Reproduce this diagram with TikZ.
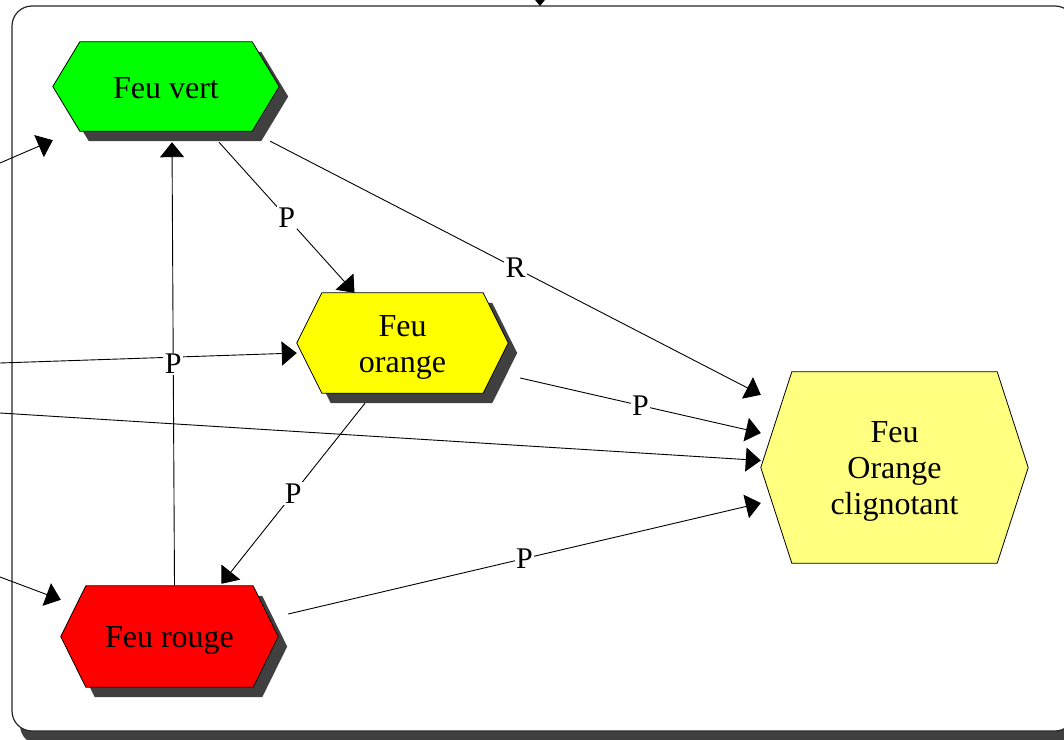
\documentclass[tikz,border=0pt]{standalone}
\usepackage{fontspec}
\setmainfont{Liberation Serif}
\newfontfamily\statefont{Liberation Serif}
\usetikzlibrary{arrows.meta}
\pgfdeclarelayer{bg}
\pgfsetlayers{bg,main}
\definecolor{shadowgray}{HTML}{404040}
\definecolor{vert}{HTML}{00FF00}
\definecolor{jaune}{HTML}{FFFF00}
\definecolor{rouge}{HTML}{FF0000}
\definecolor{pale}{HTML}{FFFF80}
\begin{document}
\begin{tikzpicture}[x=1pt,y=-1pt,
  state/.style={shape=rectangle, inner sep=0pt},
  statetext/.style={inner sep=0pt, align=center,
    font=\statefont\fontsize{32}{36}\selectfont},
  flow/.style={draw=black, line width=0.9pt,
    -{Triangle[length=15pt,width=24pt]}},
  lbl/.style={fill=white, inner sep=1.5pt,
    font=\statefont\fontsize{30}{34}\selectfont}]
\useasboundingbox (0,0) rectangle (1064,739);
\clip (0,0) rectangle (1064,739);

% state outlines (the hexagons are drawn behind them from their anchors)
\node[state, minimum width=226pt, minimum height=89pt]  (fv) at (166,86.5)    {};
\node[state, minimum width=211pt, minimum height=100pt] (fo) at (402.5,343)   {};
\node[state, minimum width=217pt, minimum height=101pt] (fr) at (169.5,636.5) {};
\node[state, minimum width=267pt, minimum height=191pt] (fc) at (894.5,467.5) {};

% state names
\node[statetext] (fv-t) at ([shift={(0,1.5)}]fv.center) {Feu vert};
\node[statetext] (fo-t) at ([shift={(0,4)}]fo.center)   {Feu\\orange};
\node[statetext] (fr-t) at ([shift={(0,4)}]fr.center)   {Feu rouge};
\node[statetext] (fc-t) at ([shift={(0,4)}]fc.center)   {Feu\\Orange\\clignotant};

\begin{pgfonlayer}{bg}
  % enclosing frame with its shadow
  \fill[shadowgray, rounded corners=20pt] (20,14) rectangle (1083,745);
  \filldraw[fill=white, draw=black!85, line width=1.2pt, rounded corners=20pt]
    (12,6) rectangle (1075,731);
  % hexagon shadows
  \foreach \n/\d in {fv/27,fo/25,fr/25}{
    \fill[shadowgray] ([shift={(9,10)}]\n.west)
      -- ([shift={(9+\d,10)}]\n.north west)
      -- ([shift={(9-\d,10)}]\n.north east)
      -- ([shift={(9,10)}]\n.east)
      -- ([shift={(9-\d,10)}]\n.south east)
      -- ([shift={(9+\d,10)}]\n.south west) -- cycle;
  }
  % hexagons
  \foreach \n/\d/\c in {fv/27/vert,fo/25/jaune,fr/25/rouge,fc/31/pale}{
    \filldraw[fill=\c, draw=black, line width=0.8pt] (\n.west)
      -- ([xshift=\d pt]\n.north west)
      -- ([xshift=-\d pt]\n.north east)
      -- (\n.east)
      -- ([xshift=-\d pt]\n.south east)
      -- ([xshift=\d pt]\n.south west) -- cycle;
  }
\end{pgfonlayer}

% incoming transitions from outside
\coordinate (in1) at (0,163);
\coordinate (in2) at (0,363);
\coordinate (in3) at (0,413);
\coordinate (in4) at (0,577);
\coordinate (topsrc) at (540,-30);
\coordinate (topdst) at (540,6);
\draw[flow] (in1) -- ([shift={(0,9)}]fv.south west);
\draw[flow] (in2) -- ([shift={(0,10)}]fo.west);
\draw[flow] (in3) -- ([shift={(0,-7)}]fc.west);
\draw[flow] (in4) -- ([shift={(0,14)}]fr.north west);
\draw[flow] (topsrc) -- (topdst);

% transitions between states
\draw[flow] ([shift={(53,11)}]fv.south) -- node[lbl]{P} ([shift={(-48,0)}]fo.north);
\draw[flow] ([shift={(-9,10)}]fv.south east) -- node[lbl]{R} ([shift={(0,23)}]fc.north west);
\draw[flow] ([shift={(5,0)}]fr.north) -- node[lbl]{P} ([shift={(6,11)}]fv.south);
\draw[flow] ([shift={(12,35)}]fo.east) -- node[lbl]{P} ([shift={(0,-34.5)}]fc.west);
\draw[flow] ([shift={(-37.5,10)}]fo.south) -- node[lbl]{P} ([shift={(52,-2)}]fr.north);
\draw[flow] ([shift={(10,-22.5)}]fr.east) -- node[lbl]{P} ([shift={(0,35.5)}]fc.west);
\end{tikzpicture}
\end{document}
